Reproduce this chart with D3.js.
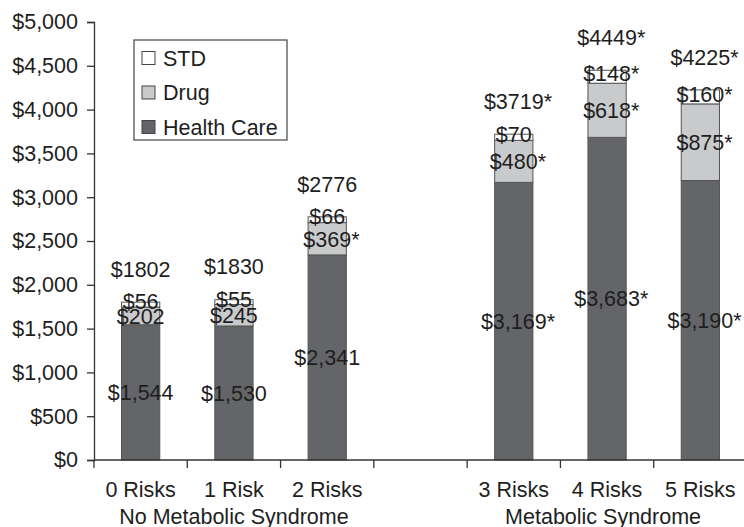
<!DOCTYPE html>
<html lang="en">
<head>
<meta charset="UTF-8">
<title>Costs by metabolic risk</title>
<script src="https://d3js.org/d3.v7.min.js"></script>
<style>
    body { margin: 0; background: #fff; }
    text { font-family: "Liberation Sans", Arial, Helvetica, sans-serif; fill: #1e1e1e; }
</style>
</head>
<body>
<div id="chart"></div>
<script>
// x slots (one empty slot separates the two groups)
const slots = ["0 Risks", "1 Risk", "2 Risks", "gap", "3 Risks", "4 Risks", "5 Risks"];
const categories = ["0 Risks", "1 Risk", "2 Risks", "3 Risks", "4 Risks", "5 Risks"];
const healthCare = [1544, 1530, 2341, 3169, 3683, 3190];
const drug = [202, 245, 369, 480, 618, 875];
const std = [56, 55, 66, 70, 148, 160];
const totals = [1802, 1830, 2776, 3719, 4449, 4225];
// significance marks (*)
const hcSig = [false, false, false, true, true, true];
const drugSig = [false, false, true, true, true, true];
const stdSig = [false, false, false, false, true, true];
const totalSig = [false, false, false, true, true, true];
const groupNames = ["No Metabolic Syndrome", "Metabolic Syndrome"];
const groupMembers = [["0 Risks", "1 Risk", "2 Risks"], ["3 Risks", "4 Risks", "5 Risks"]];
const yTicks = [0, 500, 1000, 1500, 2000, 2500, 3000, 3500, 4000, 4500, 5000];
const seriesNames = ["STD", "Drug", "Health Care"];
const seriesColors = { "Health Care": "#646568", "Drug": "#c9cacc", "STD": "#ffffff" };

const W = 744, H = 527;
const mLeft = 94, mTop = 22, yBottom = 460, xRight = 747;

const svg = d3.select("#chart").append("svg")
    .attr("width", W).attr("height", H);

const x = d3.scaleBand().domain(slots).range([mLeft, xRight]).padding(0);
const y = d3.scaleLinear().domain([0, 5000]).range([yBottom, mTop]);
const barW = x.bandwidth() * 0.41;
const fsize = 21.5;

// stack
const rows = categories.map((c, i) => ({ cat: c, "Health Care": healthCare[i], "Drug": drug[i], "STD": std[i] }));
const stack = d3.stack().keys(["Health Care", "Drug", "STD"])(rows);

svg.append("g").selectAll("g")
    .data(stack)
    .join("g")
    .attr("fill", d => seriesColors[d.key])
    .selectAll("rect")
    .data(d => d)
    .join("rect")
    .attr("x", d => x(d.data.cat) + (x.bandwidth() - barW) / 2)
    .attr("width", barW)
    .attr("y", d => y(d[1]))
    .attr("height", d => y(d[0]) - y(d[1]))
    .attr("stroke", "#555")
    .attr("stroke-width", 1);

// axes
const yAxis = svg.append("g")
    .attr("transform", "translate(" + mLeft + ",0)")
    .call(d3.axisLeft(y).tickValues(yTicks).tickSize(7).tickPadding(9)
        .tickFormat(d => d3.format("$,")(d)));
yAxis.select(".domain").attr("stroke", "#333").attr("stroke-width", 1.3);
yAxis.selectAll(".tick line").attr("stroke", "#333").attr("stroke-width", 1.3);
yAxis.selectAll("text").attr("font-size", fsize).attr("fill", "#1e1e1e")
    .attr("font-family", "'Liberation Sans', Arial, sans-serif");

const xAxisG = svg.append("g").attr("transform", "translate(0," + yBottom + ")");
xAxisG.append("line")
    .attr("x1", mLeft).attr("x2", W)
    .attr("stroke", "#333").attr("stroke-width", 1.3);
xAxisG.selectAll("line.tk")
    .data(slots)
    .join("line")
    .attr("class", "tk")
    .attr("x1", d => x(d)).attr("x2", d => x(d))
    .attr("y1", 0).attr("y2", 8)
    .attr("stroke", "#333").attr("stroke-width", 1.3);
xAxisG.selectAll("text.cat")
    .data(categories)
    .join("text")
    .attr("class", "cat")
    .attr("x", d => x(d) + x.bandwidth() / 2)
    .attr("y", 37)
    .attr("text-anchor", "middle")
    .attr("font-size", fsize)
    .text(d => d);
xAxisG.selectAll("text.grp")
    .data(groupNames)
    .join("text")
    .attr("class", "grp")
    .attr("x", (d, i) => {
        const m = groupMembers[i];
        return (x(m[0]) + x(m[m.length - 1]) + x.bandwidth()) / 2 - (i === 1 ? 4 : 0);
    })
    .attr("y", 64)
    .attr("text-anchor", "middle")
    .attr("font-size", fsize)
    .text(d => d);

// labels: number centred, asterisk hanging to the right
const labels = svg.append("g");
function addLabel(cx, cy, str, sig) {
    const t = labels.append("text")
        .attr("x", cx).attr("y", cy)
        .attr("dy", "0.36em")
        .attr("text-anchor", "middle")
        .attr("font-size", fsize)
        .text(str);
    if (sig) {
        const w = t.node().getComputedTextLength();
        labels.append("text")
            .attr("x", cx + w / 2).attr("y", cy)
            .attr("dy", "0.36em")
            .attr("font-size", fsize)
            .text("*");
    }
}
categories.forEach((c, i) => {
    const cx = x(c) + x.bandwidth() / 2;
    const h0 = healthCare[i], d0 = h0 + drug[i], s0 = d0 + std[i];
    addLabel(cx, (y(0) + y(h0)) / 2, d3.format("$,")(healthCare[i]), hcSig[i]);
    addLabel(cx, (y(h0) + y(d0)) / 2, "$" + drug[i], drugSig[i]);
    addLabel(cx, (y(d0) + y(s0)) / 2 - 3, "$" + std[i], stdSig[i]);
    addLabel(cx, y(totals[i]) - 33, "$" + totals[i], totalSig[i]);
});

// legend
const legend = svg.append("g").attr("transform", "translate(134,40)");
legend.append("rect")
    .attr("width", 153).attr("height", 100)
    .attr("fill", "#fff").attr("stroke", "#444").attr("stroke-width", 1.2);
const li = legend.selectAll("g.item")
    .data(seriesNames)
    .join("g")
    .attr("class", "item")
    .attr("transform", (d, i) => "translate(8," + (18 + i * 34.5) + ")");
li.append("rect")
    .attr("x", 0).attr("y", -6.5)
    .attr("width", 13).attr("height", 13)
    .attr("fill", d => seriesColors[d])
    .attr("stroke", "#444").attr("stroke-width", 1);
li.append("text")
    .attr("x", 21).attr("dy", "0.36em")
    .attr("font-size", fsize)
    .text(d => d);
</script>
</body>
</html>
